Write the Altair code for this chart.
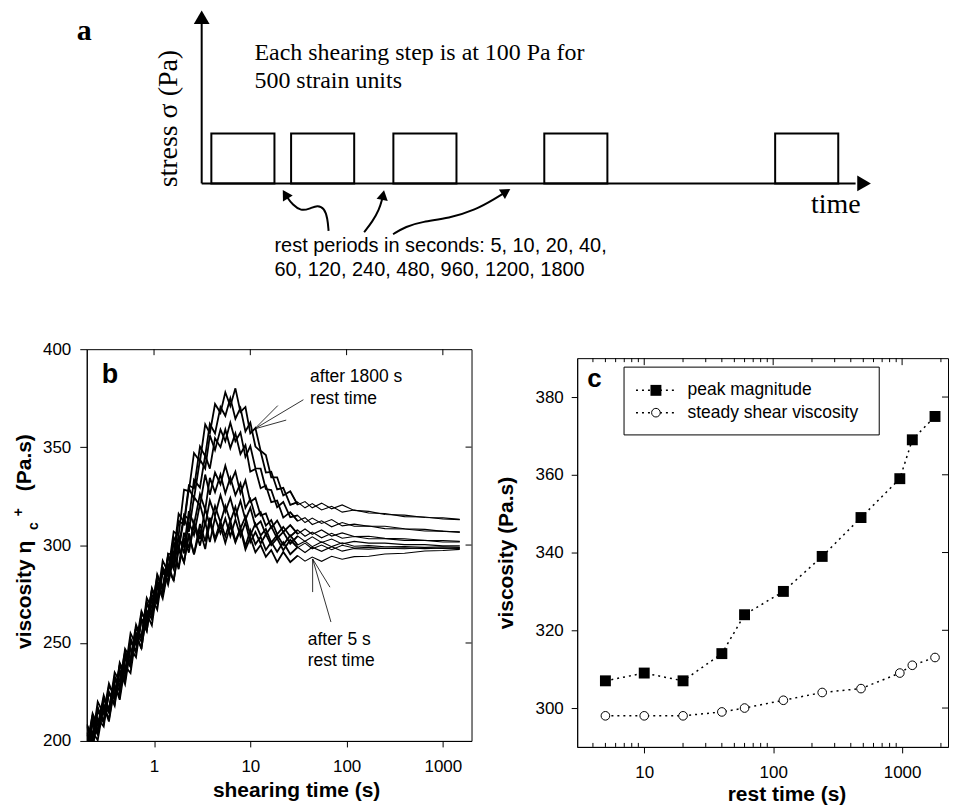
import altair as alt
import pandas as pd

FONT_SANS = "Liberation Sans"
FONT_SERIF = "Liberation Serif"

# ======================= data =======================
# ---- panel a : schematic of the shearing programme (time in schematic units, stress in Pa)
STEP_STARTS = [9.7, 89.7, 192.3, 343.7, 575.3]
STEP_DURATION = 63.3
STEP_STRESS = 100
TIME_AXIS_END = 656
STRESS_AXIS_END = 321
ARROW_1 = [[127.3, -95.2], [126.3, -70], [123, -50], [116.3, -43.2], [108, -51.2],
           [99.7, -55.2], [91.3, -43.2], [85.3, -26.6], [82.5, -16.6]]
ARROW_2 = [[163, -98], [171.3, -76.6], [178, -53.2], [181.3, -30], [182.5, -20.6]]
ARROW_3 = [[192, -102], [204.7, -86.6], [221.3, -76.6], [248, -70], [274.7, -53.2],
           [294.7, -30], [304, -18.6]]
ARROW_TIPS = [[83.9, -21.8, 329], [182, -23.2, 11], [305.4, -16.6, 58]]
NOTE_STEP = ["Each shearing step is at 100 Pa for", "500 strain units"]
NOTE_REST = ["rest periods in seconds: 5, 10, 20, 40,", "60, 120, 240, 480, 960, 1200, 1800"]

# ---- panel b : viscosity transients (s, Pa.s) after each rest period
SHEAR_TIME = [0.2, 0.23, 0.26, 0.3, 0.34, 0.39, 0.44, 0.5, 0.57, 0.65, 0.74, 0.84, 0.95,
              1.08, 1.23, 1.4, 1.6, 1.8, 2.05, 2.3, 2.6, 3.0, 3.4, 3.8, 4.3, 4.9, 5.5, 6.2,
              7.0, 7.9, 8.9, 10, 11.3, 12.8, 14.5, 16.5, 19, 22, 26, 31, 37, 44, 55, 70,
              90, 120, 170, 250, 400, 650, 1000, 1500]
VISC_1800 = [208.6, 201.7, 220, 213.8, 229.3, 222, 238.5, 235.4, 255, 249.1, 266.3, 260, 277.2,
             272.7, 292, 286.4, 306.9, 305, 328.3, 327.5, 347, 342.7, 361.6, 357.1, 372, 367.5,
             378, 371, 380, 368, 370.5, 357, 359.7, 348.2, 346, 334.6, 334.6, 325.3, 327.5,
             320.6, 322.2, 319, 321.4, 318.5, 320.5, 317.7, 317.2, 315.6, 315.3, 314.1, 313.9, 313.2]
VISC_1200 = [196.4, 213.3, 205, 221.2, 215.7, 235, 230.5, 245.6, 240, 257.9, 252.7, 273, 267.8,
             284.3, 277, 295.6, 295.1, 316, 311.7, 330.5, 329, 350.3, 345.4, 361.9, 357, 370.5,
             366, 375, 364.5, 370, 358, 362.5, 350.3, 347.8, 337, 337.4, 328.4, 329.2, 320.5,
             321.9, 319, 321.2, 317.9, 319.8, 316.8, 317.9, 316.4, 316.1, 314.5, 314.3, 313.3, 313]
VISC_960 = [195.7, 214, 207.8, 223.3, 215, 231.5, 228.4, 247, 242.1, 259.3, 252, 270.2, 265.7,
            285, 278.4, 293.9, 291, 312.3, 310.5, 329, 323.7, 343.6, 339.1, 356, 348.5, 359,
            353, 362.5, 353, 357.5, 345, 350.5, 339.2, 339, 328.6, 328.1, 319.3, 322, 314.2,
            315.2, 311.5, 313.8, 311, 313, 309.8, 310.7, 309.6, 309.6, 308.3, 308, 307, 306.8]
VISC_480 = [207.3, 199, 215.2, 209.7, 228, 223.5, 238.6, 232, 250.9, 245.7, 265, 260.8, 277.3,
            270, 288.6, 284.1, 304, 298.7, 315.5, 313, 333.3, 329.4, 345.9, 339, 354.5, 350,
            359, 349.5, 357, 346.5, 351, 337.5, 338.8, 329, 330.4, 321.9, 322.7, 314, 316.8,
            312.3, 314, 310.5, 312.4, 309.3, 311.5, 309.6, 309.7, 308.4, 308.2, 307.2, 307.1, 306.5]
VISC_240 = [208, 201.8, 217.3, 209, 224.5, 221.4, 240, 234.1, 252.3, 245, 262.2, 258.7, 278,
            271.4, 287.9, 281, 301.3, 297.5, 314, 306.7, 324.6, 320.1, 336, 325.7, 337, 331,
            340.5, 331.5, 337.5, 326.5, 333, 322, 324, 315.1, 316.1, 308.8, 312.5, 306.7, 310.2,
            305.7, 308.2, 305.5, 307.7, 304.6, 306.2, 304.4, 304.5, 303.4, 303.2, 302.3, 302.3, 301.9]
VISC_120 = [193, 209.2, 203.7, 222, 216.5, 231.6, 225, 242.9, 238.7, 258, 252.8, 270.3, 263,
            281.6, 277.1, 295, 287.7, 303.5, 299, 317.3, 310.4, 325.9, 318, 334.3, 327, 336,
            326.5, 334.5, 325.5, 331.5, 319, 323.5, 314.5, 316.9, 309.9, 312.7, 305.5, 309.3,
            304.4, 307.7, 304.5, 306.6, 303.7, 306, 303.5, 304.4, 303.2, 303.2, 302.4, 302.4, 301.6, 301.6]
VISC_60 = [195.8, 211.3, 203, 218.5, 214.4, 233, 227.1, 244.3, 238, 255.2, 250.7, 271, 264.4,
           280.9, 275, 293.3, 289.5, 305, 295.7, 311.6, 305.1, 321, 310.2, 322.7, 315, 325.5,
           317, 324, 314.5, 322.5, 313, 319, 309.6, 312.1, 305.3, 309.5, 303.4, 306.7, 300.7,
           304.6, 301.9, 304.2, 301.3, 303.1, 300.6, 301.9, 301, 301, 300.2, 300.2, 299.6, 299.6]
VISC_40 = [203.2, 197.7, 216, 210.5, 224.6, 218, 235.9, 230.7, 251, 245.8, 262.3, 256, 274.6,
           270.1, 288, 279.7, 294.5, 289, 306.3, 298.4, 311.9, 303, 318.8, 309.8, 320, 311.5,
           320, 312, 319.5, 308.5, 314.5, 305, 310.9, 304.9, 308.2, 301.3, 305.1, 300.1, 304.9,
           300, 302, 299.2, 301.6, 299.2, 301.2, 299.4, 299.7, 299.1, 299.3, 298.8, 299.1, 298.8]
VISC_20 = [204.3, 196, 211.5, 207.4, 225, 219.1, 236.3, 229, 247.2, 242.7, 262, 256.4, 272.9,
           267, 286.3, 281.5, 297, 287.7, 303.6, 296.1, 310.5, 299.7, 311.7, 301.5, 314, 306,
           313.5, 304.5, 313, 304.5, 311.5, 301.5, 306.6, 300.8, 305.5, 299.9, 303.4, 297.4,
           302.7, 298.7, 301, 298.1, 300, 297.6, 299.9, 298.5, 298.8, 298.3, 298.6, 298.2, 298.5, 298.3]
VISC_10 = [190.7, 209, 203.5, 217.6, 210, 227.9, 222.7, 242, 237.8, 254.3, 247, 266.6, 262.1,
           280, 272.7, 287.5, 282, 299.3, 291.4, 304.9, 295.5, 310.8, 301.8, 314, 303.3, 312,
           304.5, 312.5, 302, 308.5, 299.5, 307.5, 300.4, 304.2, 297.5, 301.5, 296.6, 301.4,
           295.3, 298.9, 296.2, 298.9, 296.8, 299.2, 296.9, 298.2, 297.9, 298.4, 298.1, 298.6, 298.3, 298.5]
VISC_5 = [189, 204.5, 200.4, 218, 211.1, 228.3, 221, 238.2, 234.7, 254, 247.4, 264.9, 259,
          278.3, 274.5, 290, 281.7, 297.6, 291.1, 306, 295.2, 307.7, 298, 312.1, 302.2, 309.8,
          301, 309.8, 301.3, 308, 297.7, 303.8, 296.3, 300, 294, 297.4, 291.3, 296.5, 291.3,
          294.6, 291.8, 293.9, 291.7, 294.3, 292.8, 294.1, 294.3, 295.4, 295.8, 297, 297.2, 297.8]
CURVES = {1800: VISC_1800, 1200: VISC_1200, 960: VISC_960, 480: VISC_480, 240: VISC_240,
          120: VISC_120, 60: VISC_60, 40: VISC_40, 20: VISC_20, 10: VISC_10, 5: VISC_5}
B_NOTES = ["after 1800 s", "rest time", "after 5 s", "rest time"]

# ---- panel c : peak and steady viscosity vs rest time
REST_TIME = [5, 10, 20, 40, 60, 120, 240, 480, 960, 1200, 1800]
PEAK = [307, 309, 307, 314, 324, 330, 339, 349, 359, 369, 375]
STEADY = [298, 298, 298, 299, 300, 302, 304, 305, 309, 311, 313]
SERIES = ["peak magnitude", "steady shear viscosity"]

# ======================= layout =======================
LEFT_PAD = 3
B_W, B_H = 386, 393
C_W, C_H = 372, 390
A_W, A_H = 855, 290
A_ORIGIN_X = 202 - 86.7                # pixel of schematic time 0 (panel a shares b's left edge)
A_ORIGIN_Y = 181.7 - 8                 # pixel of schematic stress 0 (from top)
A_PX_PER_PA = 0.5
NOISY_UNTIL = 31                       # s: the transient part is drawn a bit heavier

# ======================= panel a =======================
XA = alt.X("t:Q", scale=alt.Scale(domain=[-A_ORIGIN_X, A_W - A_ORIGIN_X]), axis=None)
YA = alt.Y("s:Q", scale=alt.Scale(domain=[-(A_H - A_ORIGIN_Y) / A_PX_PER_PA,
                                          A_ORIGIN_Y / A_PX_PER_PA]), axis=None)

steps = pd.DataFrame({"t": STEP_STARTS,
                      "t2": [s + STEP_DURATION for s in STEP_STARTS],
                      "s": [0] * len(STEP_STARTS),
                      "s2": [STEP_STRESS] * len(STEP_STARTS)})
a_boxes = alt.Chart(steps).mark_rect(fill="white", fillOpacity=0, stroke="black",
                                     strokeWidth=2).encode(x=XA, x2="t2:Q", y=YA, y2="s2:Q")

axes_df = pd.DataFrame({"t": [0, 0], "t2": [0, TIME_AXIS_END],
                        "s": [0, 0], "s2": [STRESS_AXIS_END, 0]})
a_axes = alt.Chart(axes_df).mark_rule(color="black", strokeWidth=2).encode(
    x=XA, x2="t2:Q", y=YA, y2="s2:Q")

heads_df = pd.DataFrame({"t": [0, TIME_AXIS_END + 8.5], "s": [STRESS_AXIS_END + 12.4, 0],
                         "ang": [0, 90]})
a_heads = alt.Chart(heads_df).mark_point(shape="triangle-up", filled=True, color="black",
                                         opacity=1, size=250).encode(
    x=XA, y=YA, angle=alt.Angle("ang:Q", scale=None))

arrow_rows = []
for i, path in enumerate([ARROW_1, ARROW_2, ARROW_3]):
    for k, (t, s) in enumerate(path):
        arrow_rows.append({"id": i, "k": k, "t": t, "s": s})
a_arrows = alt.Chart(pd.DataFrame(arrow_rows)).mark_line(
    color="black", strokeWidth=2, interpolate="basis").encode(
    x=XA, y=YA, detail="id:N", order="k:Q")
tips_df = pd.DataFrame(ARROW_TIPS, columns=["t", "s", "ang"])
a_tips = alt.Chart(tips_df).mark_point(shape="triangle-up", filled=True, color="black",
                                       opacity=1, size=130).encode(
    x=XA, y=YA, angle=alt.Angle("ang:Q", scale=None))

step_note = pd.DataFrame({"label": NOTE_STEP, "t": [53, 53], "s": [246.8, 191.4]})
a_note1 = alt.Chart(step_note).mark_text(font=FONT_SERIF, fontSize=24, align="left",
                                         baseline="alphabetic", color="black").encode(
    x=XA, y=YA, text="label:N")
rest_note = pd.DataFrame({"label": NOTE_REST, "t": [73, 73], "s": [-138.6, -186.6]})
a_note2 = alt.Chart(rest_note).mark_text(font=FONT_SANS, fontSize=20, align="left",
                                         baseline="alphabetic", color="black").encode(
    x=XA, y=YA, text="label:N")
a_time = alt.Chart(pd.DataFrame({"label": ["time"], "t": [611.3], "s": [-60]})).mark_text(
    font=FONT_SERIF, fontSize=28, align="left", baseline="alphabetic", color="black").encode(
    x=XA, y=YA, text="label:N")
a_stress = alt.Chart(pd.DataFrame({"label": ["stress σ (Pa)"], "t": [-33], "s": [130]})).mark_text(
    font=FONT_SERIF, fontSize=28, angle=270, align="center", baseline="middle",
    color="black").encode(x=XA, y=YA, text="label:N")
a_letter = alt.Chart(pd.DataFrame({"label": ["a"], "t": [-125.3], "s": [286.8]})).mark_text(
    font=FONT_SERIF, fontSize=30, fontWeight="bold", align="left", baseline="alphabetic",
    color="black").encode(x=XA, y=YA, text="label:N")

a_chart = alt.layer(a_boxes, a_axes, a_heads, a_arrows, a_tips, a_note1, a_note2,
                    a_time, a_stress, a_letter).properties(
    width=A_W, height=A_H, view=alt.ViewBackground(stroke="transparent"))

# ======================= panel b =======================
b_rows = []
for rest, vals in CURVES.items():
    for t, v in zip(SHEAR_TIME, vals):
        b_rows.append({"rest": rest, "t": t, "v": v})
b_df = pd.DataFrame(b_rows)

BXS = alt.Scale(type="log", domain=[0.2, 1985])
BYS = alt.Scale(domain=[200, 400])
BX = alt.X("t:Q", scale=BXS, axis=alt.Axis(
    values=[1, 10, 100, 1000], format="d", tickSize=6, labelPadding=12, labelFontSize=17,
    title="shearing time (s)", titleFontSize=21, titleFontWeight="bold",
    titleX=210, titleY=56, titleBaseline="alphabetic"))
BY = alt.Y("v:Q", scale=BYS, title=None, axis=alt.Axis(
    values=[200, 250, 300, 350, 400], tickSize=7, labelPadding=9, labelFontSize=17))

b_noisy = alt.Chart(b_df[b_df.t <= NOISY_UNTIL]).mark_line(
    color="black", strokeWidth=1.8, clip=True).encode(x=BX, y=BY, detail="rest:N")
b_tail = alt.Chart(b_df[b_df.t >= 26]).mark_line(
    color="black", strokeWidth=1.1, clip=True).encode(x=BX, y=BY, detail="rest:N")
b_top = alt.Chart(pd.DataFrame({"t": [1, 10, 100, 1000]})).mark_rule(color="black").encode(
    x=BX, y=alt.value(0), y2=alt.value(6))
b_right = alt.Chart(pd.DataFrame({"v": [250, 300, 350]})).mark_rule(color="black").encode(
    y=BY, x=alt.value(B_W - 6), x2=alt.value(B_W))
leaders = pd.DataFrame({
    "t": [11.08, 11.08, 11.08, 44.4, 44.4, 44.4],
    "v": [359.3, 359.3, 359.3, 292.9, 292.9, 292.9],
    "t2": [19.3, 35.6, 23.6, 44.4, 67.2, 68.8],
    "v2": [371.2, 374.2, 363.8, 276, 278.5, 260.7]})
b_leaders = alt.Chart(leaders).mark_rule(color="black", strokeWidth=0.8).encode(
    x=BX, y=BY, x2="t2:Q", y2="v2:Q")
notes_b = pd.DataFrame({"label": B_NOTES, "t": [41.8, 41.8, 39.5, 39.5],
                        "v": [383.4, 372.2, 249.2, 238.5]})
b_notes = alt.Chart(notes_b).mark_text(font=FONT_SANS, fontSize=17.5, align="left",
                                       baseline="alphabetic", color="black").encode(
    x=BX, y=BY, text="label:N")
b_letter = alt.Chart(pd.DataFrame({"label": ["b"]})).mark_text(
    font=FONT_SANS, fontSize=27, fontWeight="bold", align="left", baseline="alphabetic",
    color="black").encode(x=alt.value(15), y=alt.value(34), text="label:N")

# y title with subscript / superscript, rotated
def b_title_part(label, x, y, size, align):
    return alt.Chart(pd.DataFrame({"label": [label]})).mark_text(
        font=FONT_SANS, fontSize=size, fontWeight="bold", angle=270, align=align,
        baseline="middle", color="black").encode(
        x=alt.value(x), y=alt.value(y), text="label:N")

b_t1 = b_title_part("viscosity  η", -61.7, 300.7, 21, "left")
b_t2 = b_title_part("c", -53.4, 177.4, 14, "center")
b_t3 = b_title_part("+", -68.4, 163.4, 14, "center")
b_t4 = b_title_part("(Pa.s)", -61.7, 142.4, 21, "left")

b_chart = alt.layer(b_noisy, b_tail, b_top, b_right, b_leaders, b_notes, b_letter,
                    b_t1, b_t2, b_t3, b_t4).properties(width=B_W, height=B_H)

# ======================= panel c =======================
c_df = pd.DataFrame({
    "r": REST_TIME + REST_TIME,
    "v": PEAK + STEADY,
    "series": [SERIES[0]] * len(REST_TIME) + [SERIES[1]] * len(REST_TIME)})

CXS = alt.Scale(type="log", domain=[3.02, 2270])
CYS = alt.Scale(domain=[290, 390])
CX = alt.X("r:Q", scale=CXS, axis=alt.Axis(
    values=[10, 100, 1000], format="d", tickSize=6, labelPadding=12, labelFontSize=17,
    title="rest time (s)", titleFontSize=21, titleFontWeight="bold",
    titleX=210, titleY=54, titleBaseline="alphabetic"))
CY = alt.Y("v:Q", scale=CYS, axis=alt.Axis(
    values=[300, 320, 340, 360, 380], tickSize=6, labelPadding=8, labelFontSize=17,
    title="viscosity (Pa.s)", titleFontSize=21, titleFontWeight="bold",
    titleX=-71, titleY=C_H / 2, titleAngle=270, titleAlign="center", titleBaseline="middle"))

DOT = [2, 4]
c_lines = alt.Chart(c_df).mark_line(color="black", strokeWidth=1.5, strokeDash=DOT).encode(
    x=CX, y=CY, detail="series:N")
c_peak = alt.Chart(c_df[c_df.series == SERIES[0]]).mark_point(
    shape="square", filled=True, color="black", opacity=1, size=120).encode(x=CX, y=CY)
c_steady = alt.Chart(c_df[c_df.series == SERIES[1]]).mark_point(
    shape="circle", filled=True, fill="white", stroke="black", strokeWidth=1, opacity=1,
    size=75).encode(x=CX, y=CY)

MAJOR = [10, 100, 1000]
MINOR = [4, 5, 6, 7, 8, 9, 20, 30, 40, 50, 60, 70, 80, 90,
         200, 300, 400, 500, 600, 700, 800, 900, 2000]
c_top_major = alt.Chart(pd.DataFrame({"r": MAJOR})).mark_rule(color="black").encode(
    x=CX, y=alt.value(0), y2=alt.value(7))
c_top_minor = alt.Chart(pd.DataFrame({"r": MINOR})).mark_rule(color="black").encode(
    x=CX, y=alt.value(0), y2=alt.value(4))
c_bot_minor = alt.Chart(pd.DataFrame({"r": MINOR})).mark_rule(color="black").encode(
    x=CX, y=alt.value(C_H - 4), y2=alt.value(C_H))
c_right = alt.Chart(pd.DataFrame({"v": [300, 320, 340, 360, 380]})).mark_rule(
    color="black").encode(y=CY, x=alt.value(C_W - 6), x2=alt.value(C_W))

legend_box = alt.Chart(pd.DataFrame({"k": [0]})).mark_rect(
    fill="white", stroke="black", strokeWidth=1).encode(
    x=alt.value(47), x2=alt.value(303), y=alt.value(9), y2=alt.value(77))
legend_layers = [legend_box]
for row_y, label in zip([32.3, 54.7], SERIES):
    ldf = pd.DataFrame({"label": [label]})
    legend_layers.append(alt.Chart(ldf).mark_rule(
        color="black", strokeWidth=1.5, strokeDash=DOT).encode(
        x=alt.value(59), x2=alt.value(99), y=alt.value(row_y)))
    if label == SERIES[0]:
        sym = alt.Chart(ldf).mark_point(shape="square", filled=True, color="black",
                                        opacity=1, size=120)
    else:
        sym = alt.Chart(ldf).mark_point(shape="circle", filled=True, fill="white",
                                        stroke="black", strokeWidth=1, opacity=1, size=75)
    legend_layers.append(sym.encode(x=alt.value(79), y=alt.value(row_y)))
    legend_layers.append(alt.Chart(ldf).mark_text(
        font=FONT_SANS, fontSize=17.5, align="left", baseline="middle", color="black").encode(
        x=alt.value(110.7), y=alt.value(row_y), text="label:N"))

c_letter = alt.Chart(pd.DataFrame({"label": ["c"]})).mark_text(
    font=FONT_SANS, fontSize=26, fontWeight="bold", align="left", baseline="alphabetic",
    color="black").encode(x=alt.value(10), y=alt.value(29), text="label:N")

c_chart = alt.layer(c_lines, c_top_major, c_top_minor, c_bot_minor, c_right,
                    *legend_layers, c_peak, c_steady, c_letter).properties(
    width=C_W, height=C_H)

spacer = alt.Chart(pd.DataFrame({"k": [0]})).mark_rule(opacity=0).encode(
    x=alt.value(0), x2=alt.value(1), y=alt.value(0)).properties(
    width=1, height=1, view=alt.ViewBackground(stroke="transparent"))
c_col = alt.vconcat(spacer, c_chart, spacing=6)

row = alt.hconcat(b_chart, c_col, spacing=22)

chart = alt.vconcat(a_chart, row, spacing=39).properties(
    padding={"left": LEFT_PAD, "top": 0, "right": 0, "bottom": 0}
).configure_view(stroke="black", strokeWidth=1).configure_axis(
    grid=False, domainColor="black", tickColor="black", labelColor="black",
    titleColor="black", labelFont=FONT_SANS, titleFont=FONT_SANS,
    domainWidth=1, tickWidth=1)

chart.save("out.html", embed_options={"renderer": "svg", "actions": False})
